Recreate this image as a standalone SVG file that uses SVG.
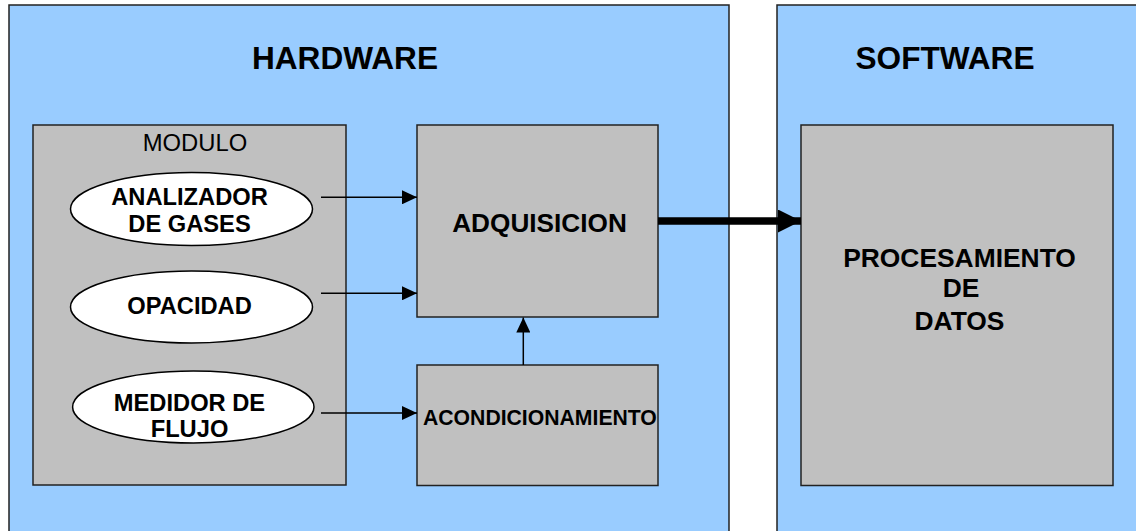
<svg xmlns="http://www.w3.org/2000/svg" width="1136" height="531" viewBox="0 0 1136 531">
<style>
.panel{fill:#99CCFF;stroke:#222;stroke-width:1.5}
.box{fill:#C0C0C0;stroke:#222;stroke-width:1.5}
.ell{fill:#fff;stroke:#000;stroke-width:1.5}
.t{font-family:"Liberation Sans",Arial,sans-serif;fill:#000;text-anchor:middle}
.b{font-weight:bold}
.ln{stroke:#000;stroke-width:1.5;fill:none}
</style>
<defs>
<marker id="ah" markerWidth="15" markerHeight="14" refX="15" refY="7" orient="auto" markerUnits="userSpaceOnUse">
<path d="M0,0 L15,7 L0,14 Z" fill="#000"/>
</marker>
<marker id="ahb" markerWidth="23" markerHeight="23" refX="23" refY="11.5" orient="auto" markerUnits="userSpaceOnUse">
<path d="M0,0 L23,11.5 L0,23 Z" fill="#000"/>
</marker>
</defs>
<g id="hardware">
<rect class="panel" x="9" y="5" width="720" height="540"/>
<text class="t b" x="345" y="69" font-size="31.6">HARDWARE</text>
</g>
<g id="software">
<rect class="panel" x="777" y="5" width="370" height="540"/>
<text class="t b" x="945" y="69" font-size="31.6">SOFTWARE</text>
</g>
<g id="modulo">
<rect class="box" x="33" y="125" width="313" height="360"/>
<text class="t" x="195" y="151" font-size="23.8">MODULO</text>
</g>
<g id="analizador">
<ellipse class="ell" cx="191.5" cy="209" rx="121" ry="36.5"/>
<text class="t b" x="189.5" y="205" font-size="23.7">ANALIZADOR</text>
<text class="t b" x="189.5" y="232" font-size="23.7">DE GASES</text>
</g>
<g id="opacidad">
<ellipse class="ell" cx="191.5" cy="307" rx="121" ry="36"/>
<text class="t b" x="189.5" y="314" font-size="23.7">OPACIDAD</text>
</g>
<g id="medidor">
<ellipse class="ell" cx="193.3" cy="407" rx="120.7" ry="36"/>
<text class="t b" x="189.5" y="411" font-size="23.7">MEDIDOR DE</text>
<text class="t b" x="189.5" y="437" font-size="23.7">FLUJO</text>
</g>
<g id="adquisicion">
<rect class="box" x="417" y="125" width="241" height="192"/>
<text class="t b" x="539.5" y="231.5" font-size="26.2">ADQUISICION</text>
</g>
<g id="acondicionamiento">
<rect class="box" x="417" y="365" width="241" height="120.5"/>
<text class="t b" x="423" y="425" font-size="21.2" style="text-anchor:start">ACONDICIONAMIENTO</text>
</g>
<g id="procesamiento">
<rect class="box" x="801" y="125" width="312" height="360.5"/>
<text class="t b" x="959.5" y="266.5" font-size="26.4">PROCESAMIENTO</text>
<text class="t b" x="961" y="297" font-size="26.4">DE</text>
<text class="t b" x="959.5" y="330" font-size="26.4">DATOS</text>
</g>
<g id="connectors">
<line class="ln" x1="321" y1="197.3" x2="417" y2="197.3" marker-end="url(#ah)"/>
<line class="ln" x1="321" y1="293.3" x2="417" y2="293.3" marker-end="url(#ah)"/>
<line class="ln" x1="321" y1="413" x2="417" y2="413" marker-end="url(#ah)"/>
<line class="ln" x1="523.3" y1="365" x2="523.3" y2="317.5" marker-end="url(#ah)"/>
<line x1="658" y1="221" x2="801" y2="221" stroke="#000" stroke-width="7.7" marker-end="url(#ahb)"/>
</g>
</svg>
